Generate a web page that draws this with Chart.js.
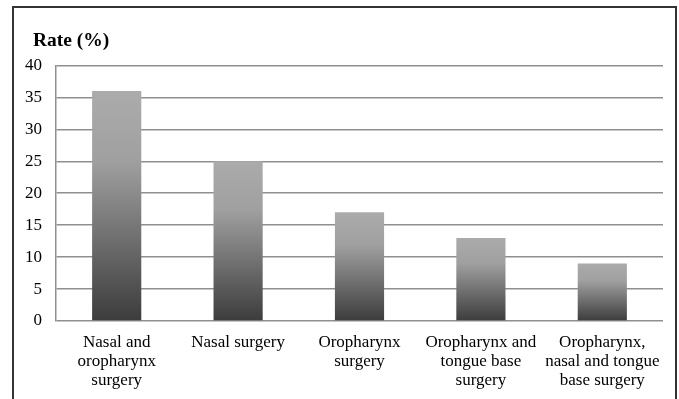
<!DOCTYPE html>
<html>
<head>
<meta charset="utf-8">
<script src="https://cdn.jsdelivr.net/npm/chart.js@4"></script>
<style>
  html, body { margin: 0; padding: 0; background: #fff; overflow: hidden; }
  #wrap { position: absolute; left: 0; top: 0; width: 679px; height: 399px; }
  #frame {
    position: absolute; left: 12px; top: 6px; width: 661px; height: 400px;
    border-left: 2px solid #333; border-top: 2px solid #333; border-right: 2px solid #333;
    pointer-events: none;
  }
</style>
</head>
<body>
<div id="wrap"><canvas id="grafico" width="679" height="399"></canvas></div>
<div id="frame"></div>
<script>
// dados
const categorias = [
  ['Nasal and', 'oropharynx', 'surgery'],
  ['Nasal surgery'],
  ['Oropharynx', 'surgery'],
  ['Oropharynx and', 'tongue base', 'surgery'],
  ['Oropharynx,', 'nasal and tongue', 'base surgery']
];
const taxas = [36, 25, 17, 13, 9];
const yMax = 40;
const yPasso = 5;

const fonteSerif = "'Liberation Serif', 'Times New Roman', serif";

// degradê por barra: claro no topo, escuro na base
function corBarra(context) {
  const chart = context.chart;
  const y = chart.scales.y;
  if (!chart.chartArea || !y || context.parsed == null) return '#888';
  const topo = y.getPixelForValue(context.parsed.y);
  const base = y.getPixelForValue(0);
  if (!isFinite(topo) || !isFinite(base)) return '#888';
  const g = chart.ctx.createLinearGradient(0, topo, 0, base);
  g.addColorStop(0, '#ababab');
  g.addColorStop(0.3, '#a0a0a0');
  g.addColorStop(1, '#3c3c3c');
  return g;
}

// empurra o título um pouco para a direita (alinhado como no original)
const deslocaTitulo = {
  id: 'deslocaTitulo',
  afterLayout(chart) {
    if (chart.titleBlock) chart.titleBlock.left += 13;
  }
};

const ctx = document.getElementById('grafico');
new Chart(ctx.getContext('2d'), {
  type: 'bar',
  data: {
    labels: categorias,
    datasets: [{
      data: taxas,
      backgroundColor: corBarra,
      borderWidth: 0,
      barPercentage: 0.405,
      categoryPercentage: 1
    }]
  },
  plugins: [deslocaTitulo],
  options: {
    responsive: false,
    animation: false,
    layout: { padding: { left: 20, right: 16, top: 0, bottom: 0 } },
    plugins: {
      legend: { display: false },
      tooltip: { enabled: false },
      title: {
        display: true,
        text: 'Rate (%)',
        align: 'start',
        color: '#000',
        font: { family: fonteSerif, size: 19.5, weight: 'bold' },
        padding: { top: 29, bottom: 13 }
      }
    },
    scales: {
      y: {
        min: 0,
        max: yMax,
        afterFit: function (scale) { scale.width = 36; },
        ticks: {
          stepSize: yPasso,
          color: '#000',
          padding: 14,
          font: { family: fonteSerif, size: 17 }
        },
        grid: { color: '#8f8f8f', lineWidth: 1.5, drawTicks: false },
        border: { display: true, color: '#8f8f8f', width: 1.5 }
      },
      x: {
        afterFit: function (scale) { scale.height = 78; },
        ticks: {
          color: '#000',
          padding: 12,
          maxRotation: 0,
          autoSkip: false,
          font: { family: fonteSerif, size: 17, lineHeight: 1.12 }
        },
        grid: { display: false, drawTicks: false },
        border: { display: false }
      }
    }
  }
});
</script>
</body>
</html>
